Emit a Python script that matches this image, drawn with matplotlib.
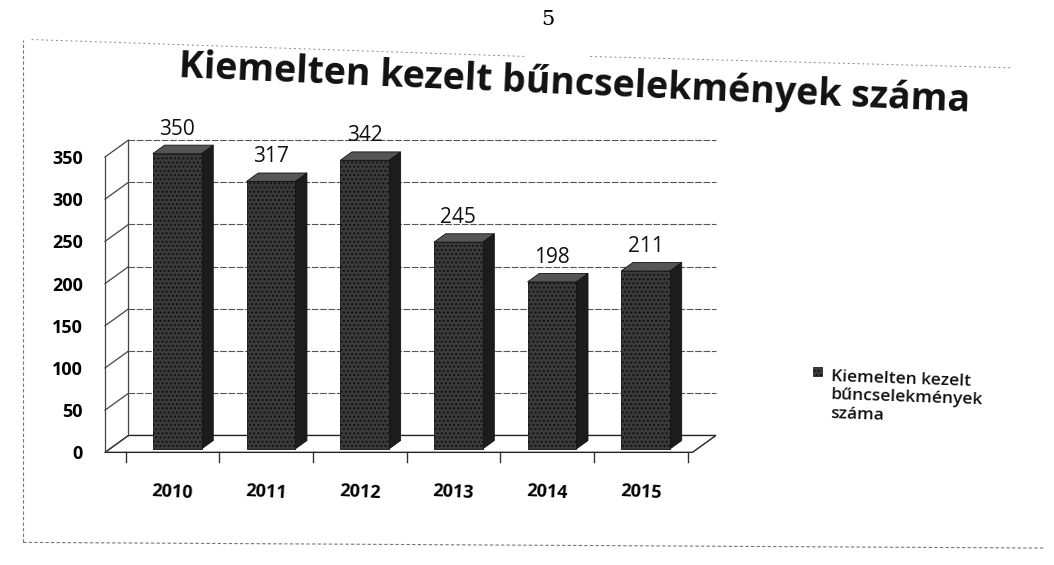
import matplotlib.pyplot as plt
from matplotlib.patches import Polygon, Rectangle
import numpy as np

plt.rcParams['font.family'] = ['Open Sans', 'DejaVu Sans']

# Adatok
evek = ['2010', '2011', '2012', '2013', '2014', '2015']
ertekek = [350, 317, 342, 245, 198, 211]
y_ticks = [0, 50, 100, 150, 200, 250, 300, 350]
cim = 'Kiemelten kezelt bűncselekmények száma'
jelmagyarazat = 'Kiemelten kezelt\nbűncselekmények\nszáma'

fig = plt.figure(figsize=(10.54, 5.65), dpi=100)
ax = fig.add_axes([0.097, 0.177, 0.60, 0.59])
ax.set_xlim(-0.75, 6.0)
ax.set_ylim(-15, 380)

# "3D" mélység eltolás (adat egységben)
dx, dy = 0.25, 20
xl, xr = -0.72, 5.55
ymax = y_ticks[-1]

# padló
ax.add_patch(Polygon([(xl, 0), (xr, 0), (xr + dx, dy), (xl + dx, dy)],
                     closed=True, facecolor='white', edgecolor='#222222', lw=1, zorder=1))
# bal fal
ax.plot([xl, xl], [0, ymax], color='#444444', lw=0.9, zorder=1)
ax.plot([xl + dx, xl + dx], [dy, ymax + dy], color='#444444', lw=0.9, zorder=1)
# rácsvonalak
for t in y_ticks:
    ax.plot([xl, xl + dx], [t, t + dy], color='#444444', lw=0.9, zorder=1)
    if t > 0:
        ax.plot([xl + dx, xr + dx], [t + dy, t + dy], color='#555555', lw=0.8,
                ls=(0, (6, 1.5)), zorder=1)

# kategóriahatár jelek a padló szélén
for b in np.arange(-0.5, len(evek), 1.0):
    ax.plot([b, b], [0, -11], color='#333333', lw=1, clip_on=False, zorder=1)

# oszlopok
w = 0.52
f0, f1 = 0.2, 0.7
for i, v in enumerate(ertekek):
    x0 = i - w / 2 + f0 * dx
    y0 = f0 * dy
    ddx = (f1 - f0) * dx
    ddy = (f1 - f0) * dy
    # oldallap
    ax.add_patch(Polygon([(x0 + w, y0), (x0 + w + ddx, y0 + ddy),
                          (x0 + w + ddx, y0 + v + ddy), (x0 + w, y0 + v)],
                         closed=True, facecolor='#1c1c1c', edgecolor='#111111', lw=0.6, zorder=3))
    # teteje
    ax.add_patch(Polygon([(x0, y0 + v), (x0 + w, y0 + v), (x0 + w + ddx, y0 + v + ddy),
                          (x0 + ddx, y0 + v + ddy)],
                         closed=True, facecolor='#555555', edgecolor='#111111', lw=0.6, zorder=3))
    # előlap
    ax.add_patch(Rectangle((x0, y0), w, v, facecolor='#3b3b3b', edgecolor='#111111',
                           lw=0.6, hatch='....', zorder=3))
    ax.text(i + 0.05, v + y0 + 29, str(v), ha='center', va='center', fontsize=15, color='#111111')

for s in ax.spines.values():
    s.set_visible(False)
ax.set_yticks(y_ticks)
ax.set_yticklabels([str(t) for t in y_ticks], fontsize=13, fontweight='bold')
ax.tick_params(axis='y', length=0, pad=14)
ax.set_xticks(range(len(evek)))
ax.set_xticklabels(evek, fontsize=13, fontweight='bold')
ax.tick_params(axis='x', which='major', length=0, pad=12)
plt.setp(ax.get_xticklabels(), rotation=-3)

# cím
fig.text(0.545, 0.85, cim, ha='center', va='center', fontsize=27, fontweight='bold',
         rotation=-2.5, color='#111111')
# oldalszám
fig.text(0.52, 0.965, '5', ha='center', va='center', fontsize=15, family='DejaVu Serif')

# jelmagyarázat
fig.patches.append(Rectangle((0.771, 0.335), 0.009, 0.016, transform=fig.transFigure,
                             facecolor='#3b3b3b', edgecolor='#111111', lw=0.5, hatch='....'))
fig.text(0.787, 0.347, jelmagyarazat, ha='left', va='top', fontsize=12.5, fontweight='semibold',
         linespacing=1.2, rotation=-2, color='#111111')

# szkennelt oldal kerete
fig.add_artist(plt.Line2D([0.022, 0.022], [0.04, 0.93], transform=fig.transFigure,
                          color='#777777', lw=0.8, ls=(0, (3, 2))))
fig.add_artist(plt.Line2D([0.022, 0.99], [0.04, 0.03], transform=fig.transFigure,
                          color='#777777', lw=0.8, ls=(0, (3, 2))))
fig.add_artist(plt.Line2D([0.03, 0.5], [0.93, 0.90], transform=fig.transFigure,
                          color='#888888', lw=0.7, ls=(0, (2, 3))))
fig.add_artist(plt.Line2D([0.56, 0.96], [0.90, 0.88], transform=fig.transFigure,
                          color='#888888', lw=0.7, ls=(0, (2, 3))))

fig.savefig('out.png', dpi=100)
